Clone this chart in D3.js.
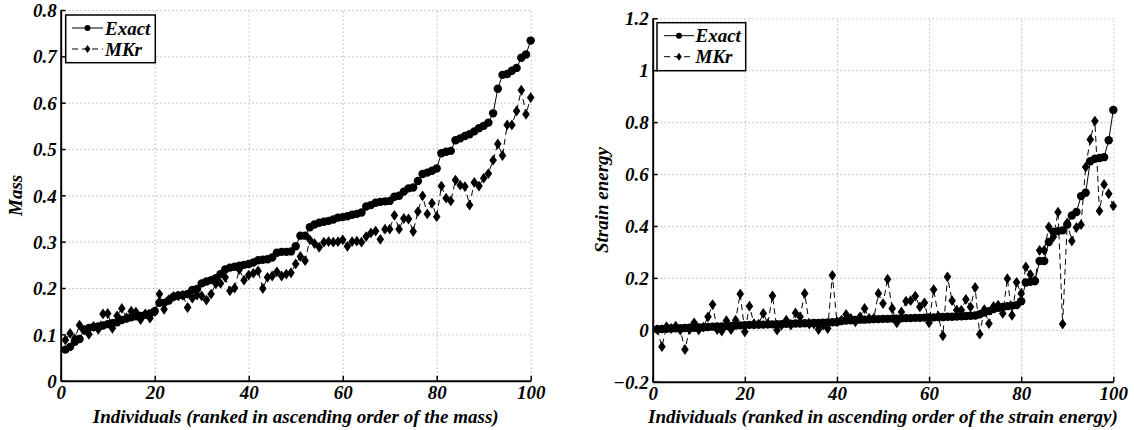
<!DOCTYPE html>
<html>
<head>
<meta charset="utf-8">
<script src="https://cdn.jsdelivr.net/npm/d3@7"></script>
<style>
  body { margin: 0; background: #fff; }
  svg { display: block; }
</style>
</head>
<body>
<svg id="chart" width="1134" height="430"></svg>
<script>
// ---------- data ----------
const individuals = d3.range(1, 101);

const massExact = [
  0.067, 0.073, 0.084, 0.090, 0.110, 0.114, 0.116, 0.117, 0.119, 0.122,
  0.124, 0.126, 0.131, 0.134, 0.137, 0.139, 0.140, 0.142, 0.145, 0.150,
  0.168, 0.168, 0.173, 0.181, 0.184, 0.185, 0.187, 0.196, 0.198, 0.210,
  0.214, 0.217, 0.221, 0.230, 0.240, 0.244, 0.246, 0.248, 0.250, 0.252,
  0.255, 0.260, 0.261, 0.262, 0.266, 0.276, 0.278, 0.278, 0.279, 0.290,
  0.313, 0.313, 0.331, 0.337, 0.341, 0.343, 0.345, 0.348, 0.352, 0.353,
  0.355, 0.358, 0.360, 0.363, 0.376, 0.379, 0.384, 0.386, 0.387, 0.388,
  0.397, 0.399, 0.408, 0.415, 0.417, 0.431, 0.446, 0.449, 0.453, 0.458,
  0.491, 0.494, 0.496, 0.519, 0.523, 0.528, 0.532, 0.538, 0.545, 0.550,
  0.557, 0.577, 0.630, 0.660, 0.662, 0.669, 0.675, 0.697, 0.704, 0.734
];
const massMKr = [
  0.088, 0.102, 0.091, 0.120, 0.109, 0.100, 0.117, 0.111, 0.144, 0.145,
  0.113, 0.140, 0.156, 0.136, 0.150, 0.148, 0.132, 0.144, 0.135, 0.149,
  0.187, 0.154, 0.175, 0.182, 0.183, 0.184, 0.158, 0.178, 0.185, 0.183,
  0.174, 0.187, 0.209, 0.210, 0.223, 0.194, 0.200, 0.240, 0.217, 0.228,
  0.232, 0.237, 0.199, 0.223, 0.226, 0.235, 0.226, 0.230, 0.233, 0.252,
  0.268, 0.259, 0.304, 0.296, 0.288, 0.299, 0.300, 0.299, 0.300, 0.304,
  0.290, 0.300, 0.301, 0.299, 0.311, 0.319, 0.323, 0.305, 0.327, 0.327,
  0.357, 0.327, 0.350, 0.349, 0.322, 0.365, 0.399, 0.360, 0.383, 0.354,
  0.420, 0.394, 0.388, 0.433, 0.422, 0.419, 0.379, 0.428, 0.420, 0.437,
  0.447, 0.476, 0.511, 0.486, 0.552, 0.552, 0.582, 0.627, 0.575, 0.611
];
const strainExact = [
  0.002, 0.003, 0.004, 0.005, 0.006, 0.006, 0.007, 0.008, 0.008, 0.009,
  0.010, 0.011, 0.012, 0.013, 0.013, 0.014, 0.015, 0.016, 0.017, 0.018,
  0.019, 0.019, 0.020, 0.020, 0.021, 0.021, 0.022, 0.022, 0.023, 0.023,
  0.024, 0.024, 0.025, 0.025, 0.026, 0.026, 0.027, 0.028, 0.029, 0.030,
  0.034, 0.036, 0.037, 0.038, 0.039, 0.039, 0.040, 0.041, 0.041, 0.042,
  0.042, 0.043, 0.043, 0.044, 0.045, 0.045, 0.046, 0.046, 0.047, 0.048,
  0.048, 0.049, 0.049, 0.050, 0.050, 0.051, 0.052, 0.053, 0.054, 0.055,
  0.060, 0.066, 0.072, 0.080, 0.085, 0.088, 0.091, 0.093, 0.095, 0.110,
  0.182, 0.185, 0.188, 0.265, 0.265, 0.338, 0.377, 0.380, 0.383, 0.405,
  0.440, 0.454, 0.515, 0.528, 0.649, 0.659, 0.662, 0.665, 0.730, 0.847
];
const strainMKr = [
  0.001, -0.065, 0.012, 0.005, 0.014, -0.001, -0.076, 0.001, 0.027, 0.000,
  0.010, 0.050, 0.097, 0.001, -0.005, 0.035, 0.001, 0.037, 0.138, -0.008,
  0.091, 0.024, 0.022, 0.063, 0.024, 0.131, -0.001, 0.018, 0.037, 0.018,
  0.065, 0.050, 0.140, 0.022, 0.022, 0.001, 0.018, 0.005, 0.210, 0.031,
  0.037, 0.059, 0.044, 0.031, 0.050, 0.082, 0.044, 0.044, 0.140, 0.101,
  0.195, 0.082, 0.027, 0.069, 0.110, 0.112, 0.130, 0.088, 0.104, 0.027,
  0.155, 0.053, -0.023, 0.204, 0.112, 0.076, 0.076, 0.117, 0.088, 0.163,
  -0.017, 0.078, 0.024, 0.090, 0.095, 0.063, 0.197, 0.056, 0.183, 0.140,
  0.242, 0.213, 0.190, 0.306, 0.306, 0.396, 0.358, 0.453, 0.022, 0.412,
  0.342, 0.394, 0.405, 0.627, 0.733, 0.804, 0.458, 0.560, 0.524, 0.477
];

const xTicks = [0, 20, 40, 60, 80, 100];
const massTicks = [0, 0.1, 0.2, 0.3, 0.4, 0.5, 0.6, 0.7, 0.8];
const strainTicks = [-0.2, 0, 0.2, 0.4, 0.6, 0.8, 1, 1.2];
const seriesNames = ["Exact", "MKr"];

const FONT = "Liberation Serif";
const FS = 19;

const panels = [
  {
    exact: massExact, mkr: massMKr, yDomain: [0, 0.8], yTicks: massTicks,
    xRange: [60.7, 530.7], yRange: [380.7, 10],
    yLabel: "Mass", yLabelX: 22,
    xLabel: "Individuals (ranked in ascending order of the mass)",
    legend: { x: 65.7, y: 15, w: 89.6, h: 47.7, lineX0: 72, lineX1: 103, textX: 105 }
  },
  {
    exact: strainExact, mkr: strainMKr, yDomain: [-0.2, 1.2], yTicks: strainTicks,
    xRange: [652.7, 1113.3], yRange: [381.7, 18.3],
    yLabel: "Strain energy", yLabelX: 608,
    xLabel: "Individuals (ranked in ascending order of the strain energy)",
    legend: { x: 657, y: 22.7, w: 88.7, h: 48, lineX0: 664, lineX1: 694, textX: 695.5 }
  }
];

const svg = d3.select("#chart");
const diamond = "M0,-5.4L3.8,0L0,5.4L-3.8,0Z";
const styleText = s => s.attr("font-family", FONT).attr("font-weight", "bold")
  .attr("font-style", "italic").attr("font-size", FS).attr("fill", "#000");

panels.forEach(p => {
  const x = d3.scaleLinear().domain([0, 100]).range(p.xRange);
  const y = d3.scaleLinear().domain(p.yDomain).range(p.yRange);
  const g = svg.append("g");
  const [x0, x1] = p.xRange;
  const [yb, yt] = p.yRange;

  // grid
  g.append("g").attr("transform", `translate(0,${yb})`)
    .call(d3.axisBottom(x).tickValues(xTicks.filter(t => t > 0)).tickSize(-(yb - yt)).tickFormat(""))
    .call(s => s.select(".domain").remove())
    .call(s => s.selectAll("line").attr("stroke", "#999").attr("stroke-dasharray", "1,3"));
  g.append("g").attr("transform", `translate(${x0},0)`)
    .call(d3.axisLeft(y).tickValues(p.yTicks.filter(t => t > p.yDomain[0])).tickSize(-(x1 - x0)).tickFormat(""))
    .call(s => s.select(".domain").remove())
    .call(s => s.selectAll("line").attr("stroke", "#999").attr("stroke-dasharray", "1,3"));

  // lines
  const lineFn = d3.line().x((d, i) => x(individuals[i])).y(d => y(d));
  g.append("path").datum(p.mkr).attr("d", lineFn)
    .attr("fill", "none").attr("stroke", "#000").attr("stroke-width", 1).attr("stroke-dasharray", "6,4");
  g.append("path").datum(p.exact).attr("d", lineFn)
    .attr("fill", "none").attr("stroke", "#000").attr("stroke-width", 1);

  // markers
  g.append("g").selectAll("path").data(p.mkr).join("path")
    .attr("d", diamond)
    .attr("transform", (d, i) => `translate(${x(individuals[i])},${y(d)})`)
    .attr("fill", "#000");
  g.append("g").selectAll("circle").data(p.exact).join("circle")
    .attr("cx", (d, i) => x(individuals[i])).attr("cy", d => y(d)).attr("r", 4.2)
    .attr("fill", "#000");

  // axes
  const ax = g.append("g").attr("transform", `translate(0,${yb})`)
    .call(d3.axisBottom(x).tickValues(xTicks).tickSizeInner(-5).tickSizeOuter(0).tickPadding(5).tickFormat(d3.format("d")));
  ax.select(".domain").attr("stroke-width", 2);
  ax.selectAll("line").attr("stroke-width", 1.5);
  ax.selectAll("text").call(styleText).attr("dy", "0.72em");

  const ay = g.append("g").attr("transform", `translate(${x0},0)`)
    .call(d3.axisLeft(y).tickValues(p.yTicks).tickSizeInner(-5).tickSizeOuter(0).tickPadding(4));
  ay.select(".domain").attr("stroke-width", 2);
  ay.selectAll("line").attr("stroke-width", 1.5);
  ay.selectAll("text").call(styleText).attr("dy", "0.35em")
    .text(d => (d < 0 ? "\u22120.2" : String(+d.toFixed(2))));

  // axis titles
  g.append("text").attr("x", (x0 + x1) / 2).attr("y", 423).attr("text-anchor", "middle")
    .call(styleText).text(p.xLabel);
  g.append("text").attr("transform", `translate(${p.yLabelX},${(yb + yt) / 2}) rotate(-90)`)
    .attr("text-anchor", "middle").call(styleText).text(p.yLabel);

  // legend
  const L = p.legend;
  const lg = g.append("g");
  lg.append("rect").attr("x", L.x).attr("y", L.y).attr("width", L.w).attr("height", L.h)
    .attr("fill", "#fff").attr("stroke", "#000").attr("stroke-width", 1.5);
  const rows = [L.y + 13, L.y + 34];
  seriesNames.forEach((name, k) => {
    const ry = rows[k];
    lg.append("line").attr("x1", L.lineX0).attr("x2", L.lineX1).attr("y1", ry).attr("y2", ry)
      .attr("stroke", "#000").attr("stroke-width", 1).attr("stroke-dasharray", k === 0 ? null : "6,4");
    const mx = (L.lineX0 + L.lineX1) / 2;
    if (k === 0) lg.append("circle").attr("cx", mx).attr("cy", ry).attr("r", 3).attr("fill", "#000");
    else lg.append("path").attr("d", "M0,-4L2.8,0L0,4L-2.8,0Z").attr("transform", `translate(${mx},${ry})`).attr("fill", "#000");
    lg.append("text").attr("x", L.textX).attr("y", ry).attr("dy", "0.35em").call(styleText).text(name);
  });
});
</script>
</body>
</html>
